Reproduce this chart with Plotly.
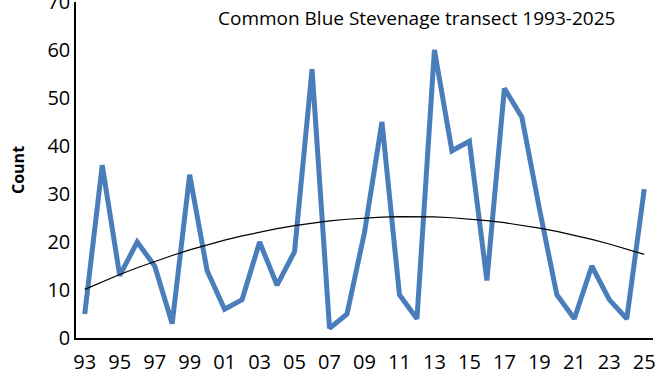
import numpy as np
import plotly.graph_objects as go

years = list(range(1993, 2026))
counts = [5, 36, 13, 20, 15, 3, 34, 14, 6, 8, 20, 11, 18, 56, 2, 5, 22, 45, 9, 4,
          60, 39, 41, 12, 52, 46, 27, 9, 4, 15, 8, 4, 31]
tick_years = list(range(1993, 2026, 2))
tick_labels = [f"{y % 100:02d}" for y in tick_years]
y_ticks = [0, 10, 20, 30, 40, 50, 60, 70]

# Polynomial (order 2) trendline, as in Excel
x = np.array(years, dtype=float)
coef = np.polyfit(x - 1993, np.array(counts, dtype=float), 2)
trend = np.polyval(coef, x - 1993)

fig = go.Figure()
fig.add_trace(go.Scatter(x=years, y=counts, mode="lines",
                         line=dict(color="#4A7EBB", width=5), showlegend=False))
fig.add_trace(go.Scatter(x=years, y=trend, mode="lines",
                         line=dict(color="black", width=1.2), showlegend=False))

font_family = "Open Sans, Noto Sans, sans-serif"
L, R, T, B = 76, 16, 2, 45
pw = 669 - L - R
fig.update_layout(
    width=669, height=383,
    margin=dict(l=L, r=R, t=T, b=B, autoexpand=False),
    paper_bgcolor="white", plot_bgcolor="white",
    font=dict(family=font_family, size=18, color="black"),
    annotations=[
        dict(text="Common Blue Stevenage transect 1993-2025",
             x=(416 - L) / pw, y=66.6, xref="paper", yref="y",
             xanchor="center", yanchor="middle", showarrow=False,
             font=dict(size=19, family=font_family)),
        dict(text="<b>Count</b>", x=(18 - L) / pw, y=35, xref="paper", yref="y",
             xanchor="center", yanchor="middle", showarrow=False, textangle=-90,
             font=dict(size=16, family=font_family)),
    ],
)
fig.update_xaxes(range=[1992.5, 2025.5], tickvals=tick_years, ticktext=tick_labels,
                 showline=True, linecolor="black", linewidth=1.5,
                 showgrid=False, zeroline=False, ticks="", ticklen=0,
                 tickfont=dict(size=20), automargin=False,
                 ticklabelstandoff=5, ticklabeloverflow="allow")
fig.update_yaxes(range=[0, 70], tickvals=y_ticks,
                 showline=True, linecolor="black", linewidth=1.5,
                 showgrid=False, zeroline=False, ticks="",
                 tickfont=dict(size=20), automargin=False,
                 ticklabelstandoff=0, ticklabeloverflow="allow")
fig.write_html("out.html", config={"displayModeBar": False},
               post_script="document.body.style.margin='0';document.body.style.overflow='hidden';")
